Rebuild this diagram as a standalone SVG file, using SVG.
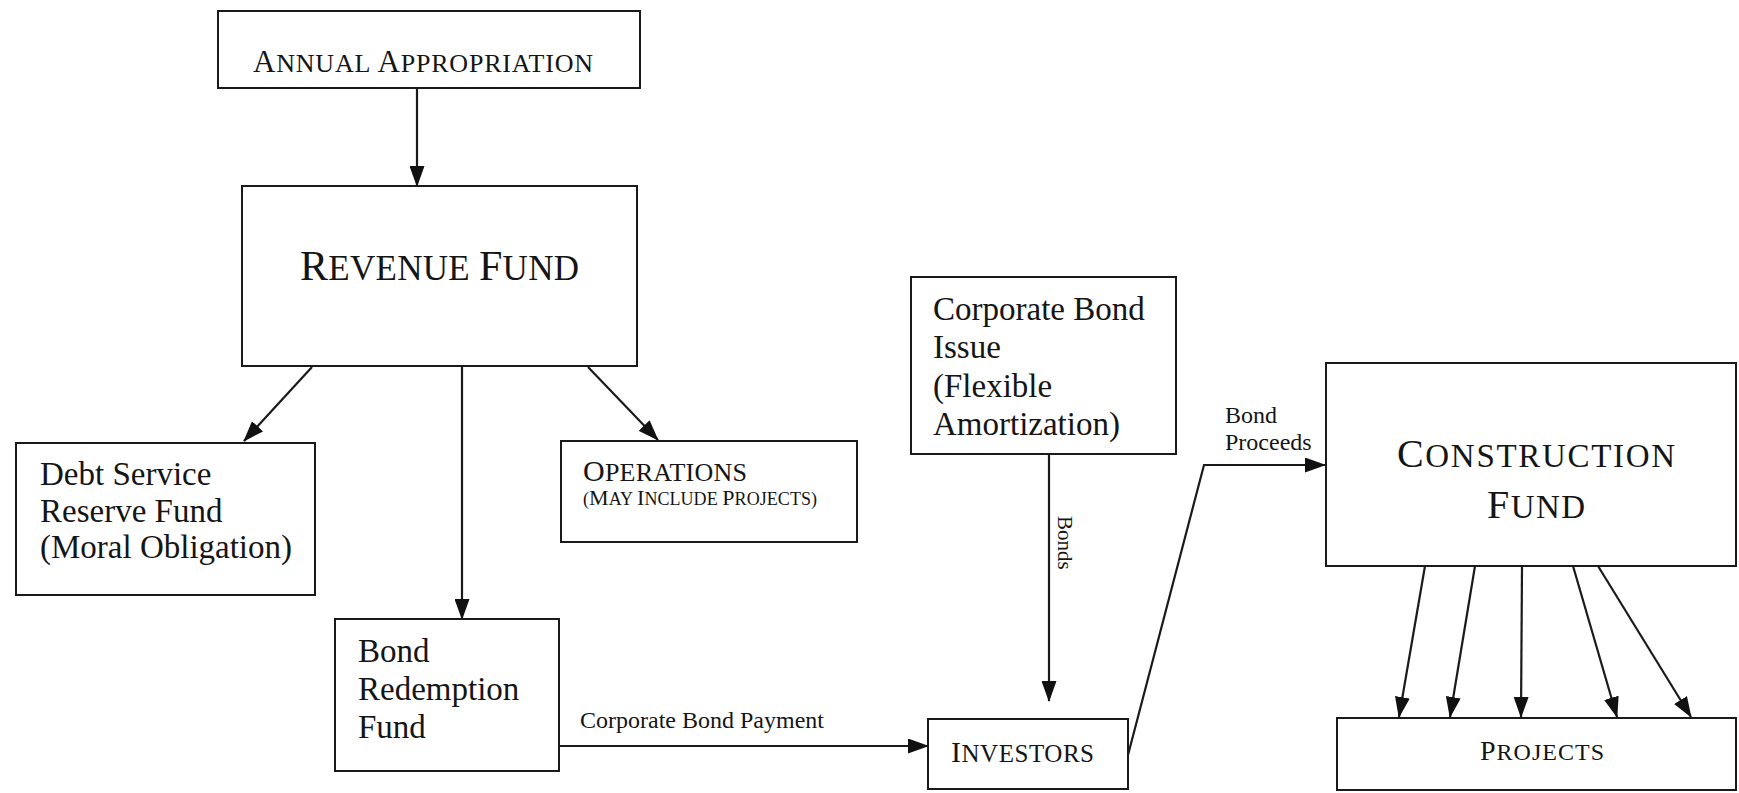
<svg xmlns="http://www.w3.org/2000/svg" width="1739" height="793" viewBox="0 0 1739 793">
<style>
  .box { fill: #ffffff; stroke: #1a1a1a; stroke-width: 2; }
  .t { font-family: "Liberation Serif", "Times New Roman", serif; fill: #151515; }
  .body { font-size: 33px; }
  .lbl { font-size: 24px; }
  .conn { stroke: #1a1a1a; stroke-width: 2.2; fill: none; }
  .arr { marker-end: url(#ah); }
</style>
<defs>
  <marker id="ah" markerWidth="21" markerHeight="15" refX="20" refY="7.5" orient="auto" markerUnits="userSpaceOnUse">
    <path d="M0,0 L21,7.5 L0,15 z" fill="#111111"/>
  </marker>
</defs>
<rect width="1739" height="793" fill="#ffffff"/>

<g id="connectors">
  <line class="conn arr" x1="417" y1="88" x2="417" y2="186"/>
  <line class="conn arr" x1="312" y1="367" x2="244" y2="441"/>
  <line class="conn arr" x1="462" y1="366" x2="462" y2="619"/>
  <line class="conn arr" x1="588" y1="367" x2="658" y2="440"/>
  <line class="conn arr" x1="559" y1="746" x2="928" y2="746"/>
  <line class="conn arr" x1="1049" y1="454" x2="1049" y2="701"/>
  <polyline class="conn arr" points="1128,755 1204,465 1325,465"/>
  <line class="conn arr" x1="1425" y1="566" x2="1399" y2="717"/>
  <line class="conn arr" x1="1475" y1="566" x2="1450" y2="717"/>
  <line class="conn arr" x1="1522" y1="566" x2="1521" y2="717"/>
  <line class="conn arr" x1="1573" y1="566" x2="1617" y2="717"/>
  <line class="conn arr" x1="1598" y1="566" x2="1691" y2="717"/>
  <text class="t lbl" x="580" y="728">Corporate Bond Payment</text>
  <text class="t lbl" x="1225" y="423">Bond</text>
  <text class="t lbl" x="1225" y="450">Proceeds</text>
  <text class="t" font-size="21" transform="translate(1058,516) rotate(90)">Bonds</text>
</g>

<g id="annual-appropriation">
  <rect class="box" x="218" y="11" width="422" height="77"/>
  <text class="t" x="253" y="72" textLength="340" lengthAdjust="spacing"><tspan font-size="31">A</tspan><tspan font-size="26">NNUAL </tspan><tspan font-size="31">A</tspan><tspan font-size="26">PPROPRIATION</tspan></text>
</g>

<g id="revenue-fund">
  <rect class="box" x="242" y="186" width="395" height="180"/>
  <text class="t" x="300" y="280" textLength="279" lengthAdjust="spacing"><tspan font-size="42">R</tspan><tspan font-size="35">EVENUE </tspan><tspan font-size="42">F</tspan><tspan font-size="35">UND</tspan></text>
</g>

<g id="debt-service">
  <rect class="box" x="16" y="443" width="299" height="152"/>
  <text class="t body" x="40" y="485">Debt Service</text>
  <text class="t body" x="40" y="522">Reserve Fund</text>
  <text class="t body" x="40" y="558">(Moral Obligation)</text>
</g>

<g id="operations">
  <rect class="box" x="561" y="441" width="296" height="101"/>
  <text class="t" x="583" y="481" textLength="164" lengthAdjust="spacing"><tspan font-size="30">O</tspan><tspan font-size="26">PERATIONS</tspan></text>
  <text class="t" x="583" y="505" textLength="234" lengthAdjust="spacing"><tspan font-size="18">(</tspan><tspan font-size="22">M</tspan><tspan font-size="18">AY </tspan><tspan font-size="22">I</tspan><tspan font-size="18">NCLUDE </tspan><tspan font-size="22">P</tspan><tspan font-size="18">ROJECTS)</tspan></text>
</g>

<g id="bond-redemption">
  <rect class="box" x="335" y="619" width="224" height="152"/>
  <text class="t body" x="358" y="662">Bond</text>
  <text class="t body" x="358" y="700">Redemption</text>
  <text class="t body" x="358" y="738">Fund</text>
</g>

<g id="corporate-bond-issue">
  <rect class="box" x="911" y="277" width="265" height="177"/>
  <text class="t body" x="933" y="320">Corporate Bond</text>
  <text class="t body" x="933" y="358">Issue</text>
  <text class="t body" x="933" y="397">(Flexible</text>
  <text class="t body" x="933" y="435">Amortization)</text>
</g>

<g id="investors">
  <rect class="box" x="928" y="719" width="200" height="70"/>
  <text class="t" x="951" y="762" textLength="143" lengthAdjust="spacing"><tspan font-size="30">I</tspan><tspan font-size="25">NVESTORS</tspan></text>
</g>

<g id="construction-fund">
  <rect class="box" x="1326" y="363" width="410" height="203"/>
  <text class="t" x="1397" y="467" textLength="278" lengthAdjust="spacing"><tspan font-size="40">C</tspan><tspan font-size="33">ONSTRUCTION</tspan></text>
  <text class="t" x="1487" y="518" textLength="98" lengthAdjust="spacing"><tspan font-size="40">F</tspan><tspan font-size="33">UND</tspan></text>
</g>

<g id="projects">
  <rect class="box" x="1337" y="718" width="399" height="72"/>
  <text class="t" x="1480" y="760" textLength="124" lengthAdjust="spacing"><tspan font-size="28">P</tspan><tspan font-size="24">ROJECTS</tspan></text>
</g>
</svg>
